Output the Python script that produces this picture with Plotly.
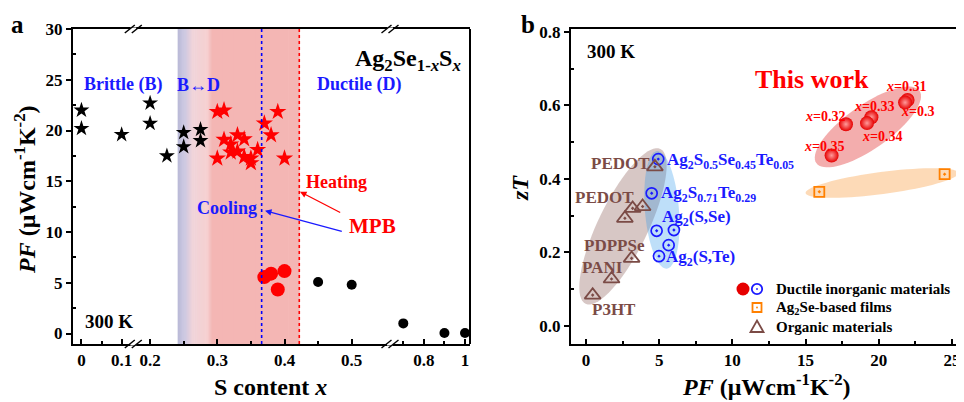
import numpy as np
import plotly.graph_objects as go

W, H = 964, 402
OFF = 8  # page body margin offset compensation
SERIF = "Liberation Serif, Times New Roman, serif"

# ---------------- data: panel a (S content x vs PF) ----------------
black_star_x = [0, 0, 0.1, 0.2, 0.2, 0.225, 0.25, 0.25, 0.275, 0.275]
black_star_y = [22.0, 20.2, 19.6, 22.7, 20.7, 17.5, 19.8, 18.4, 20.1, 19.0]
red_star_x = [0.30, 0.31, 0.39, 0.37, 0.38, 0.31, 0.33, 0.34, 0.32, 0.32, 0.33, 0.30, 0.34, 0.35, 0.35, 0.36, 0.40]
red_star_y = [21.85, 22.0, 21.85, 20.7, 19.55, 19.1, 19.55, 19.15, 18.65, 17.85, 17.95, 17.25, 17.4, 17.25, 16.8, 18.1, 17.25]
red_circle_x = [0.37, 0.38, 0.40, 0.39]
red_circle_y = [5.56, 5.9, 6.15, 4.34]
black_circle_x = [0.45, 0.5, 0.7, 0.9, 1.0]
black_circle_y = [5.07, 4.8, 1.0, 0.05, 0.05]
cooling_x = 0.366
heating_x = 0.422

# ---------------- data: panel b (PF vs zT) ----------------
this_work_labels = ["x=0.31", "x=0.3", "x=0.33", "x=0.34", "x=0.32", "x=0.35"]
this_work_pf = [21.97, 21.8, 19.5, 19.2, 17.76, 16.78]
this_work_zt = [0.615, 0.608, 0.568, 0.552, 0.549, 0.464]
films_pf = [15.94, 24.5]
films_zt = [0.365, 0.413]
ductile_pf = [4.94, 4.49, 4.83, 6.01, 5.65, 4.99]
ductile_zt = [0.454, 0.361, 0.259, 0.261, 0.220, 0.190]
organic_pf = [4.71, 3.87, 3.19, 2.66, 3.12, 1.75, 0.46]
organic_zt = [0.433, 0.325, 0.320, 0.293, 0.184, 0.128, 0.084]
legend_labels = ["Ductile inorganic materials", "Ag<sub>2</sub>Se-based films", "Organic materials"]


def PX(x):
    return (x - OFF) / W


def PY(y):
    return 1 - (y - OFF) / H


# broken x axis segments for panel a
SEGS = [
    ("x", [-0.021, 0.129], [PX(73), PX(133.3)]),
    ("x2", [0.175, 0.557], [PX(133.3), PX(390)]),
    ("x3", [0.6354, 1.0243], [PX(390), PX(470)]),
]


def split(xs, ys):
    out = []
    for ax, rng, _ in SEGS:
        sx = [x for x, y in zip(xs, ys) if rng[0] <= x <= rng[1]]
        sy = [y for x, y in zip(xs, ys) if rng[0] <= x <= rng[1]]
        if sx:
            out.append((ax, sx, sy))
    return out


fig = go.Figure()


def add_a(xs, ys, **kw):
    for ax, sx, sy in split(xs, ys):
        fig.add_trace(go.Scatter(x=sx, y=sy, xaxis=ax, yaxis="y", mode="markers",
                                 showlegend=False, hoverinfo="skip", **kw))


BLUE = "#1a1aff"
RED = "#ff0000"
BROWN = "#7b4b46"
ORANGE = "#ff8000"

add_a(black_star_x, black_star_y, marker=dict(symbol="star", size=12, color="black"))
add_a(red_star_x, red_star_y, marker=dict(symbol="star", size=13, color=RED))
add_a(red_circle_x, red_circle_y, marker=dict(symbol="circle", size=14, color=RED))
add_a(black_circle_x, black_circle_y, marker=dict(symbol="circle", size=10, color="black"))

# panel b traces
fig.add_trace(go.Scatter(x=ductile_pf, y=ductile_zt, xaxis="x4", yaxis="y2", mode="markers",
                         showlegend=False,
                         marker=dict(symbol="circle-open-dot", size=11, color=BLUE,
                                     line=dict(width=1.7, color=BLUE))))
fig.add_trace(go.Scatter(x=films_pf, y=films_zt, xaxis="x4", yaxis="y2", mode="markers",
                         showlegend=False,
                         marker=dict(symbol="square-open-dot", size=10, color=ORANGE,
                                     line=dict(width=1.8, color=ORANGE))))
fig.add_trace(go.Scatter(x=organic_pf, y=organic_zt, xaxis="x4", yaxis="y2", mode="markers",
                         showlegend=False,
                         marker=dict(symbol="triangle-up-open-dot", size=14, color=BROWN,
                                     line=dict(width=1.8, color=BROWN))))
fig.add_trace(go.Scatter(x=this_work_pf, y=this_work_zt, xaxis="x4", yaxis="y2", mode="markers",
                         showlegend=False,
                         marker=dict(symbol="circle", size=14, color="#e60000",
                                     gradient=dict(type="radial", color="#ff9a9a"),
                                     line=dict(width=0))))

shapes = []

# shaded MPB band with gradient edge (panel a)
stops = [(0.241, (185, 185, 215)), (0.252, (205, 200, 225)), (0.263, (240, 212, 218)),
         (0.285, (246, 208, 208)), (0.292, (244, 182, 180)), (heating_x, (244, 182, 180))]
for i in range(len(stops) - 1):
    (x0, c0), (x1, c1) = stops[i], stops[i + 1]
    n = 8
    for k in range(n):
        a0 = x0 + (x1 - x0) * k / n
        a1 = x0 + (x1 - x0) * (k + 1) / n
        t = (k + 0.5) / n
        c = tuple(int(round(c0[j] + (c1[j] - c0[j]) * t)) for j in range(3))
        shapes.append(dict(type="rect", xref="x2", yref="y domain", x0=a0, x1=a1 + 0.0008,
                           y0=0, y1=1, fillcolor="rgb(%d,%d,%d)" % c, line=dict(width=0),
                           layer="below"))

shapes.append(dict(type="line", xref="x2", yref="y domain", x0=cooling_x, x1=cooling_x, y0=0, y1=1,
                   line=dict(color="#0000ff", width=1.6, dash="dot")))
shapes.append(dict(type="line", xref="x2", yref="y domain", x0=heating_x, x1=heating_x, y0=0, y1=1,
                   line=dict(color=RED, width=1.6, dash="dot")))

# right border of panel a
shapes.append(dict(type="line", xref="paper", yref="paper", x0=PX(470), x1=PX(470),
                   y0=PY(344), y1=PY(29), line=dict(color="black", width=2)))

# break marks
for bx in (133.3, 390):
    for by in (344, 29):
        shapes.append(dict(type="line", xref="paper", yref="paper", x0=PX(bx - 3), x1=PX(bx + 3),
                           y0=PY(by), y1=PY(by), line=dict(color="white", width=3)))
        for o in (-3.5, 3.5):
            shapes.append(dict(type="line", xref="paper", yref="paper",
                               x0=PX(bx + o - 5), x1=PX(bx + o + 5), y0=PY(by + 4), y1=PY(by - 4),
                               line=dict(color="black", width=1.5)))

# ellipses in panel b
BX_RANGE = [-1.02, 25.79]
BY_RANGE = [-0.049, 0.808]
BX_DOM = [PX(571), PX(963.5)]
BY_DOM = [PY(344), PY(29)]
SX = (BX_DOM[1] - BX_DOM[0]) * W / (BX_RANGE[1] - BX_RANGE[0])
SY = (BY_DOM[1] - BY_DOM[0]) * H / (BY_RANGE[1] - BY_RANGE[0])


def ellipse_path(cx, cy, a, b, ang):
    th = np.radians(ang)
    t = np.linspace(0, 2 * np.pi, 73)
    dx = a * np.cos(t) * np.cos(th) - b * np.sin(t) * np.sin(th)
    dy = a * np.cos(t) * np.sin(th) + b * np.sin(t) * np.cos(th)
    xs = cx + dx / SX
    ys = cy + dy / SY
    return "M " + " L ".join("%.4f,%.5f" % (x, y) for x, y in zip(xs, ys)) + " Z"


for (cx, cy, a, b, ang, col) in [
    (2.53, 0.271, 86, 25, 64.2, "rgba(130,80,75,0.32)"),
    (5.19, 0.316, 59, 17, 94.7, "rgba(40,150,235,0.30)"),
    (19.26, 0.5415, 63, 22, 35, "rgba(225,50,50,0.40)"),
    (20.22, 0.389, 77, 11, 7.5, "rgba(250,150,50,0.35)"),
]:
    shapes.append(dict(type="path", xref="x4", yref="y2", path=ellipse_path(cx, cy, a, b, ang),
                       fillcolor=col, line=dict(width=0), layer="below"))


# hand-drawn legend glyphs (paper coordinates)
def circ(cx, cy, r, fill, line_col=None, lw=0):
    shapes.append(dict(type="circle", xref="paper", yref="paper", x0=PX(cx - r), x1=PX(cx + r),
                       y0=PY(cy + r), y1=PY(cy - r), fillcolor=fill,
                       line=dict(width=lw, color=line_col or fill)))


LEG_Y = [289, 307.5, 327]
circ(743, LEG_Y[0], 6.5, "#e60000")
circ(757, LEG_Y[0], 5.2, "white", BLUE, 1.8)
circ(757, LEG_Y[0], 0.9, BLUE)
shapes.append(dict(type="rect", xref="paper", yref="paper", x0=PX(752.5), x1=PX(761.5),
                   y0=PY(LEG_Y[1] + 4.5), y1=PY(LEG_Y[1] - 4.5), fillcolor="white",
                   line=dict(width=1.8, color=ORANGE)))
circ(757, LEG_Y[1], 0.9, ORANGE)
shapes.append(dict(type="path", xref="paper", yref="paper",
                   path="M %f,%f L %f,%f L %f,%f Z" % (PX(750.5), PY(LEG_Y[2] + 5), PX(763.5), PY(LEG_Y[2] + 5),
                                                       PX(757), PY(LEG_Y[2] - 6.5)),
                   fillcolor="white", line=dict(width=1.8, color=BROWN)))

ann = []


def A(x, y, text, size=18, color="black", xanchor="center", angle=0):
    ann.append(dict(x=PX(x), y=PY(y), xref="paper", yref="paper", text=text, showarrow=False,
                    xanchor=xanchor, yanchor="middle", textangle=angle,
                    font=dict(family=SERIF, size=size, color=color)))


for lab, yy in zip(legend_labels, LEG_Y):
    A(774, yy, "<b>" + lab + "</b>", 15, "black", "left")

A(17, 25, "<b>a</b>", 25)
A(82, 85, "<b>Brittle (B)</b>", 18, BLUE, "left")
A(175, 85, "<b>B↔D</b>", 18, BLUE, "left")
A(315, 85, "<b>Ductile (D)</b>", 18, BLUE, "left")
A(463, 60, "<b>Ag<sub>2</sub>Se<sub>1-<i>x</i></sub>S<sub><i>x</i></sub></b>", 24, "black", "right")
A(304, 182, "<b>Heating</b>", 18, RED, "left")
A(195, 208, "<b>Cooling</b>", 18, BLUE, "left")
A(372, 226, "<b>MPB</b>", 21, RED)
A(83, 321, "<b>300 K</b>", 19, "black", "left")
A(25, 190, "<b><i>PF</i> (μWcm<sup>-1</sup>K<sup>-2</sup>)</b>", 24, "black", "center", -90)
A(270, 387, "<b>S content <i>x</i></b>", 24)

# arrows to the MPB lines
for (hx, hy, tx, ty, col) in [(300, 191.7, 341.7, 213.3, RED), (265, 210.7, 343.3, 231.7, BLUE)]:
    ann.append(dict(x=PX(hx), y=PY(hy), xref="paper", yref="paper", text="", showarrow=True,
                    ax=tx - hx, ay=ty - hy, arrowhead=2, arrowsize=1, arrowwidth=1.3,
                    arrowcolor=col))

A(528, 25, "<b>b</b>", 25)
A(585, 52, "<b>300 K</b>", 19, "black", "left")
A(812, 80, "<b>This work</b>", 26, RED)
A(520, 188, "<b><i>zT</i></b>", 24, "black", "center", -90)
A(766, 385, "<b><i>PF</i> (μWcm<sup>-1</sup>K<sup>-2</sup>)</b>", 24)

A(652, 163, "<b>PEDOT</b>", 17, BROWN, "right")
A(636, 198, "<b>PEDOT</b>", 17, BROWN, "right")
A(582, 245, "<b>PDPPSe</b>", 17, BROWN, "left")
A(580, 267, "<b>PANI</b>", 17, BROWN, "left")
A(590, 309, "<b>P3HT</b>", 17, BROWN, "left")
A(665, 161, "<b>Ag<sub>2</sub>S<sub>0.5</sub>Se<sub>0.45</sub>Te<sub>0.05</sub></b>", 17, BLUE, "left")
A(659, 194, "<b>Ag<sub>2</sub>S<sub>0.71</sub>Te<sub>0.29</sub></b>", 17, BLUE, "left")
A(660, 218, "<b>Ag<sub>2</sub>(S,Se)</b>", 17, BLUE, "left")
A(664, 258, "<b>Ag<sub>2</sub>(S,Te)</b>", 17, BLUE, "left")

lab_pos = {"x=0.31": (906, 87), "x=0.3": (917, 112), "x=0.33": (874, 107),
           "x=0.32": (825, 116), "x=0.34": (882, 136), "x=0.35": (824, 146)}
for lab in this_work_labels:
    x, y = lab_pos[lab]
    A(x, y, "<b><i>x</i>=" + lab[2:] + "</b>", 14, RED)

tickfont = dict(family=SERIF, size=17, color="black", weight="bold")
axis_common = dict(showline=True, linecolor="black", linewidth=2, showgrid=False, zeroline=False,
                   tickfont=tickfont, tickcolor="black", tickwidth=1.5, automargin=False)

layout = dict(width=W, height=H, margin=dict(l=0, r=0, t=0, b=0, pad=0, autoexpand=False),
              paper_bgcolor="white", plot_bgcolor="white", shapes=shapes, annotations=ann,
              font=dict(family=SERIF, color="black"), showlegend=False)

minor_vals = {"x": [0.05], "x2": [0.25, 0.35, 0.45], "x3": [0.7, 0.9]}
major_vals = {"x": ([0, 0.1], ["0", "0.1"]), "x2": ([0.2, 0.3, 0.4, 0.5], ["0.2", "0.3", "0.4", "0.5"]),
              "x3": ([0.8, 1.0], ["0.8", "1"])}
for ax, rng, dom in SEGS:
    key = "xaxis" if ax == "x" else "xaxis" + ax[1:]
    tv, tt = major_vals[ax]
    layout[key] = dict(axis_common, domain=dom, range=rng, anchor="y", mirror=True,
                       tickmode="array", tickvals=tv, ticktext=tt, ticks="inside", ticklen=5,
                       minor=dict(tickmode="array", tickvals=minor_vals[ax], ticks="inside",
                                  ticklen=3, tickcolor="black", tickwidth=1.5))
layout["yaxis"] = dict(axis_common, domain=[PY(344), PY(29)], range=[-1.03, 30], anchor="x",
                       mirror=False, tickmode="array", tickvals=[0, 5, 10, 15, 20, 25, 30],
                       ticks="outside", ticklen=5,
                       minor=dict(tickmode="array", tickvals=[2.5, 7.5, 12.5, 17.5, 22.5, 27.5],
                                  ticks="inside", ticklen=3, tickcolor="black", tickwidth=1.5))
layout["xaxis4"] = dict(axis_common, domain=BX_DOM, range=BX_RANGE, anchor="y2", mirror=True,
                        tickmode="array", tickvals=[0, 5, 10, 15, 20, 25], ticks="inside", ticklen=5,
                        minor=dict(tickmode="array", tickvals=[2.5, 7.5, 12.5, 17.5, 22.5],
                                   ticks="inside", ticklen=3, tickcolor="black", tickwidth=1.5))
layout["yaxis2"] = dict(axis_common, domain=BY_DOM, range=BY_RANGE, anchor="x4", mirror=True,
                        tickmode="array", tickvals=[0, 0.2, 0.4, 0.6, 0.8],
                        ticktext=["0.0", "0.2", "0.4", "0.6", "0.8"], ticks="outside", ticklen=5,
                        minor=dict(tickmode="array", tickvals=[0.1, 0.3, 0.5, 0.7],
                                   ticks="inside", ticklen=3, tickcolor="black", tickwidth=1.5))

fig.update_layout(**layout)
fig.write_html("out.html")
